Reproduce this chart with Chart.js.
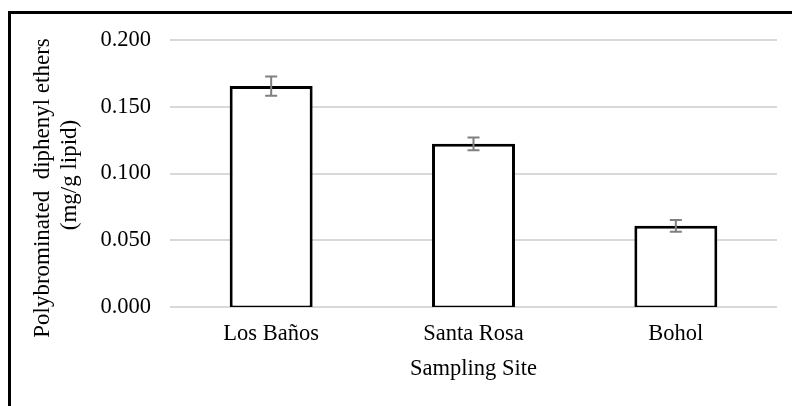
<!DOCTYPE html>
<html>
<head>
<meta charset="utf-8">
<script src="https://cdn.jsdelivr.net/npm/chart.js@4/dist/chart.umd.min.js"></script>
<style>
    body { margin: 0; background: #fff; }
    #wrap { position: relative; width: 792px; height: 406px; }
    #frame { position: absolute; left: 8px; top: 11px; right: 0; bottom: -10px; border-top: 3px solid #000; border-left: 3px solid #000; pointer-events: none; }
    canvas { position: absolute; left: 0; top: 0; }
</style>
</head>
<body>
<div id="wrap">
    <canvas id="chart" width="792" height="406"></canvas>
    <div id="frame"></div>
</div>
<script>
// data
var sites = ['Los Baños', 'Santa Rosa', 'Bohol']
var pbde = [0.1655, 0.1222, 0.0608]
var pbdeErr = [0.0072, 0.0048, 0.0044]
var yTicks = [0, 0.05, 0.1, 0.15, 0.2]

var yTitle = ['Polybrominated  diphenyl ethers', '(mg/g lipid)']
var xTitle = 'Sampling Site'

var serif = 'Liberation Serif, Times New Roman, serif'

// error bars drawn through the chart scales
var errorBars = {
    id: 'errorBars',
    afterDatasetsDraw: function (chart) {
        var ctx = chart.ctx
        var y = chart.scales.y
        var meta = chart.getDatasetMeta(0)
        ctx.save()
        ctx.strokeStyle = '#808080'
        ctx.lineWidth = 2
        meta.data.forEach(function (bar, i) {
            var top = y.getPixelForValue(pbde[i] + pbdeErr[i])
            var bot = y.getPixelForValue(pbde[i] - pbdeErr[i])
            ctx.beginPath()
            ctx.moveTo(bar.x, top)
            ctx.lineTo(bar.x, bot)
            ctx.moveTo(bar.x - 6, top)
            ctx.lineTo(bar.x + 6, top)
            ctx.moveTo(bar.x - 6, bot)
            ctx.lineTo(bar.x + 6, bot)
            ctx.stroke()
        })
        ctx.restore()
    }
}

// axis titles
var titles = {
    id: 'titles',
    afterDraw: function (chart) {
        var ctx = chart.ctx
        var area = chart.chartArea
        ctx.save()
        ctx.fillStyle = '#000'
        ctx.font = '22.5px ' + serif
        ctx.textAlign = 'center'
        ctx.textBaseline = 'alphabetic'
        ctx.fillText(xTitle, (area.left + area.right) / 2, 375)

        ctx.font = '23px ' + serif
        ctx.save()
        ctx.translate(49, 188)
        ctx.rotate(-Math.PI / 2)
        ctx.fillText(yTitle[0], 0, 0)
        ctx.restore()
        ctx.save()
        ctx.translate(76, 175)
        ctx.rotate(-Math.PI / 2)
        ctx.fillText(yTitle[1], 0, 0)
        ctx.restore()
        ctx.restore()
    }
}

new Chart(document.getElementById('chart').getContext('2d'), {
    type: 'bar',
    data: {
        labels: sites,
        datasets: [{
            data: pbde,
            base: -0.0011,
            backgroundColor: '#ffffff',
            borderColor: '#000000',
            borderWidth: 3,
            borderSkipped: false,
            categoryPercentage: 1,
            barPercentage: 0.41
        }]
    },
    options: {
        responsive: false,
        animation: false,
        events: [],
        layout: {
            padding: { top: 40, right: 15, bottom: 0, left: 0 }
        },
        plugins: {
            legend: { display: false },
            tooltip: { enabled: false }
        },
        scales: {
            x: {
                grid: { display: false, drawTicks: false },
                border: { display: false },
                ticks: {
                    color: '#000',
                    padding: 14,
                    font: { family: serif, size: 22.5 }
                },
                afterFit: function (scale) { scale.height = 406 - 307 }
            },
            y: {
                min: 0,
                max: 0.2,
                afterBuildTicks: function (scale) {
                    scale.ticks = yTicks.map(function (v) { return { value: v } })
                },
                grid: { color: '#d9d9d9', lineWidth: 2, drawTicks: false },
                border: { display: false },
                ticks: {
                    color: '#000',
                    padding: 19,
                    font: { family: serif, size: 22.5 },
                    callback: function (v) { return v.toFixed(3) }
                },
                afterFit: function (scale) { scale.width = 170 }
            }
        }
    },
    plugins: [errorBars, titles]
})
</script>
</body>
</html>
